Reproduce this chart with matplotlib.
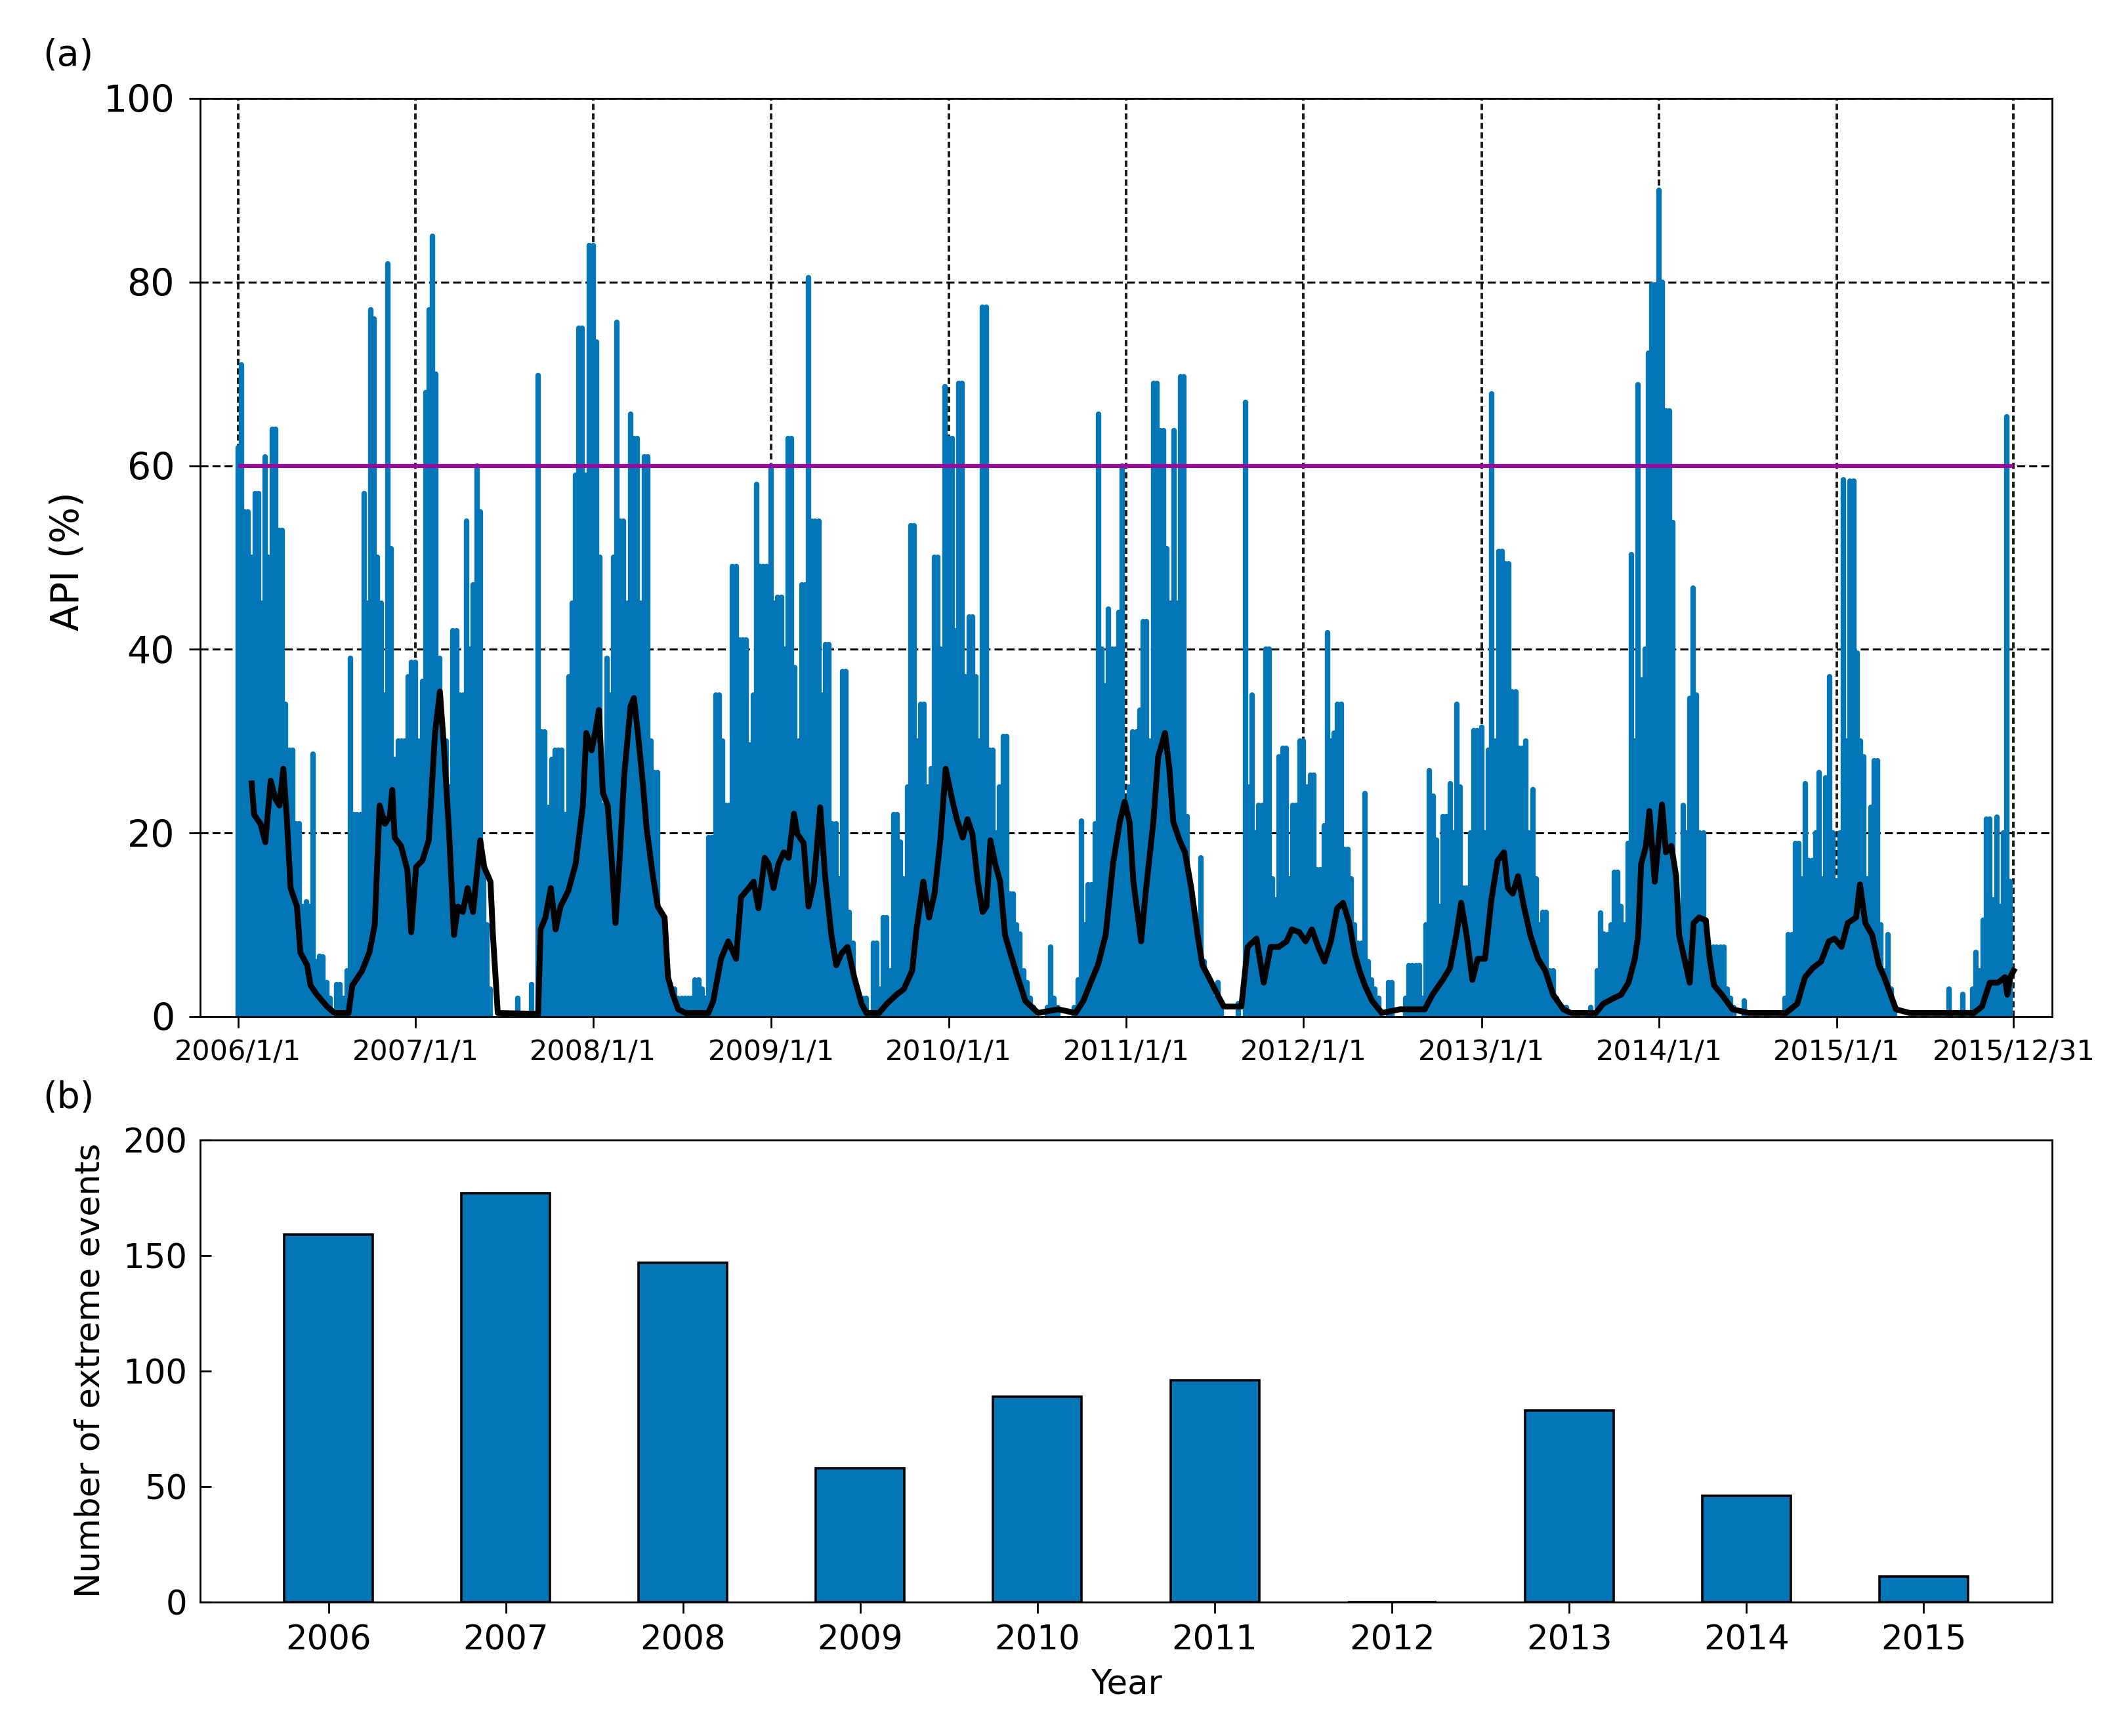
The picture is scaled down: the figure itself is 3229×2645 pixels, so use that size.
import numpy as np
import matplotlib
matplotlib.use('Agg')
import matplotlib.pyplot as plt
import matplotlib.dates as mdates
from datetime import date, timedelta

# weekly API peaks, one list per year, first value = 1 Jan
api_2006 = [62, 71, 55, 55, 50, 57, 57, 45, 61, 50, 64, 64, 53, 53, 34, 29, 29, 21, 21, 12,
            12.5, 12, 28.6, 6, 6.6, 6.5, 3.7, 2, 0, 3.5, 3.5, 2, 5, 39, 22, 22, 22, 57, 45, 77,
            76, 50, 45, 35, 82, 51, 28, 30, 30, 30, 37, 38.6]
api_2007 = [38.6, 30, 36.5, 68, 77, 85, 70, 39, 30, 30, 25, 42, 42, 35, 35, 54, 40, 47, 60, 55,
            17, 10, 3, 0, 0, 0, 0, 0, 0, 0, 2, 0, 0, 0, 3.5, 0, 69.8, 31, 31, 22.8,
            28, 29, 29, 29, 22, 37, 45, 59, 75, 75, 59, 84]
api_2008 = [84, 73.5, 50, 23, 39, 35, 50, 75.6, 54, 54, 45, 65.6, 63, 63, 45, 61, 61, 30, 26.6, 26.6,
            11.4, 8, 3, 3, 3, 2, 2, 2, 2, 2, 4, 4, 3, 2, 19.5, 19.5, 35, 35, 30, 23,
            23, 49, 49, 41, 41, 41, 29.6, 35, 58, 49, 49, 49]
api_2009 = [60, 45, 45.7, 45.7, 40, 63, 63, 38, 30, 47, 47, 80.5, 54, 54, 54, 35, 40.5, 40.5, 21, 21,
            15, 37.6, 37.6, 11.4, 8, 3, 2, 2, 2, 0, 8, 8, 3, 10.8, 10.8, 5, 22, 22, 19, 15,
            25, 53.5, 53.5, 30, 34, 34, 25, 27, 50, 50, 40, 68.6]
api_2010 = [63, 63, 42, 69, 69, 37, 43.5, 43.5, 37, 30, 77.3, 77.3, 29, 29, 20, 25, 30.5, 30.5, 13.4, 13.4,
            10, 9, 5, 3.7, 2, 1, 0, 0, 0, 1, 7.6, 2, 1, 0, 0, 0, 0, 1, 4, 21.3,
            10, 14.4, 14.4, 21, 65.6, 40, 36, 44.4, 40, 40, 44, 60]
api_2011 = [23, 25, 31, 31, 33.4, 43, 43, 30, 69, 69, 63.8, 63.8, 51, 45, 63.8, 45, 69.7, 69.7, 21.8, 14,
            10, 8, 17.3, 6, 4, 3, 2, 3.7, 1, 0, 0, 0, 0, 1.4, 0, 66.9, 25, 35, 20, 23,
            23, 40, 40, 15, 12.7, 28.3, 29.2, 29.2, 15, 23, 23, 30]
api_2012 = [30, 25, 26.3, 26.3, 16, 16, 20.8, 41.8, 30, 30.9, 34, 34, 18.2, 18.2, 15, 10, 8, 8, 24.3, 6,
            4, 3, 2, 0, 0, 3.7, 3.7, 0, 0, 0, 2, 5.6, 5.6, 5.6, 5.6, 2, 10, 26.8, 24, 19.2,
            12, 21.8, 21.8, 25.4, 20, 34, 25, 14, 14, 20, 31.2, 31.2]
api_2013 = [31.5, 20, 29, 67.8, 30, 50.7, 50.7, 49.3, 49.3, 35.4, 35.4, 29.2, 29.2, 30, 20, 24.7, 15, 10, 11.4, 11.4,
            5, 5, 2, 1, 1, 1, 0, 0, 0, 0, 0, 0, 1, 0, 5, 11.3, 9, 8.9, 10, 15.7,
            15.7, 12, 10, 18.9, 50.3, 30, 68.8, 36.7, 40, 72.3, 79.7, 79.7]
api_2014 = [90, 80, 66, 66, 53.8, 15, 8.9, 23, 20, 34.7, 46.7, 35, 20, 20, 7.6, 5, 7.6, 7.6, 7.6, 7.6,
            3, 2, 1, 0, 0, 1.7, 0, 0, 0, 0, 0, 0, 0, 0, 0, 0, 0, 2, 8.9, 8.9,
            18.9, 18.9, 15, 25.4, 17, 17, 20, 26.6, 15, 26, 37, 20]
api_2015 = [14.7, 20, 58.5, 30, 58.3, 58.3, 39.6, 30, 28.3, 15, 22.8, 27.9, 27.9, 10, 5, 8.9, 3, 1, 0, 0,
            0, 0, 0, 0, 0, 0, 0, 0, 0, 0, 0, 0, 0, 3, 0, 0, 0, 2.4, 0, 0,
            3, 7, 5, 10.5, 21.5, 21.5, 12.7, 21.7, 12, 20, 65.3, 14.7]

api_years = {2006: api_2006, 2007: api_2007, 2008: api_2008, 2009: api_2009, 2010: api_2010,
             2011: api_2011, 2012: api_2012, 2013: api_2013, 2014: api_2014, 2015: api_2015}

# smoothed API (black curve): vertices as (weeks since 2006-01-01, value)
smooth_week = [4.0, 4.8, 6.6, 8.1, 9.6, 11.1, 12.2, 13.3, 14.4, 15.5, 17.3, 18.4, 20.3, 21.4, 23.2, 26.2,
               28.4, 32.5, 33.6, 36.5, 38.7, 40.2, 41.7, 43.2, 44.6, 45.4, 46.1, 47.9, 49.8, 50.9, 52.4,
               54.2, 56.1, 57.9, 59.4, 60.5, 62, 63.5, 64.6, 66, 67.5, 69, 71.2, 72.3, 74.2, 74.9, 76.4,
               88.2, 88.9, 90.4, 91.9, 93.3, 94.8, 97, 99.2,
               101.3, 102.4, 103.9, 105, 106.1, 107.2, 108.7, 109.8, 110.9, 112, 113.5, 115.3, 116.4, 117.5,
               119, 120.1, 121.9, 123.4, 125.3, 126.4, 127.8, 129.3, 131.5, 138.2, 139.7, 141.9, 144.1,
               146.3, 147.8, 150, 151.5, 152.9, 154.8, 155.9, 157.4, 158.8, 160.3, 161.8, 163.3, 164.4,
               166.2, 167.7, 169.2, 171, 172.5, 174.3, 175.8, 177.3, 179.1, 181, 183.2, 184.7, 188.4,
               190.6, 193.5, 195.7, 198, 199.4, 201.3, 203.1, 204.6, 206.4, 207.9, 209.8, 211.2, 212.9,
               214.3,
               215.8, 217.3, 218.8, 219.9, 221, 222.5, 223.9, 225.4, 226.9, 229.1, 231.3, 235, 240.9,
               246.1, 248.3, 250.5, 252.7, 254.9, 257.1, 259, 260.5, 261.9, 263, 265.3, 266.7, 268.9,
               270.4, 272.3, 273.7, 274.8, 276.7, 278.2, 280, 281.9, 283.3, 285.2, 287.4, 289.6, 294.8,
               296.6, 299.2, 301.4, 303.3, 305.8,
               308.1, 309.6, 311.8, 313.6, 315.5, 317.3, 319.2, 321, 322.9, 324.7, 326.5, 328, 329.5,
               331, 333.2, 336.1, 341.3, 348.7, 350.9, 353.9, 356.1, 357.9, 359.4, 360.9, 362.7, 364.2,
               366.4, 368.2, 370.1, 371.9, 373, 374.5, 376, 377.8, 379.7, 381.9, 384.1, 386.3, 389.3,
               391.5, 398.9, 401.1, 404.1, 406.3, 408.5, 410.3, 411.4, 412.2, 413.6, 414.7, 416.2,
               417.3, 418.4, 419.5, 421, 422.5,
               423.3, 424.9, 426.5, 427.7, 429.2, 431.2, 432.4, 433.6, 435.9, 439.1, 443.8, 454.8, 458,
               460.3, 462.7, 465.1, 467.4, 469, 471, 472.9, 475.3, 476.5, 478.1, 480, 482, 483.6, 485.5,
               487.1, 491, 509.9, 512.3, 514.7, 517, 519, 519.8, 520.6, 521.6]
smooth_api = [25.4, 22, 21, 19, 25.7, 23.7, 23, 27, 21.8, 14, 12, 7, 5.6, 3.4, 2.4, 1.1,
              0.4, 0.4, 3.4, 5, 7, 10, 23, 21, 21.8, 24.7, 19.5, 18.6, 16, 9.2, 16.3,
              17, 19.2, 30.9, 35.4, 29.6, 19.9, 8.9, 12, 11.4, 14, 11.4, 19.2, 16.3, 14.7, 8.9, 0.4,
              0.3, 9.5, 10.8, 14, 9.5, 12, 13.7, 16.6,
              23, 30.9, 29, 31.2, 33.4, 24.4, 23, 17.3, 10.2, 16.6, 26.3, 33.8, 34.7, 30.9,
              25, 20.5, 15.3, 12, 10.8, 4.3, 2.4, 0.8, 0.4, 0.4, 1.7, 6.3, 8.2,
              6.3, 13, 14, 14.7, 11.8, 17.3, 16.6, 14, 16.6, 17.9, 17.3, 22.1, 19.9,
              18.9, 12, 14.7, 22.8, 15.3, 8.9, 5.6, 6.9, 7.6, 4.3, 1.4, 0.4, 0.4,
              1.4, 2.4, 3, 5, 9.5, 14.7, 10.8, 13.4, 19.2, 27, 23.7, 21.5, 19.5,
              21.5,
              19.9, 14.7, 11.4, 12, 19.2, 16.6, 14.7, 8.9, 6.9, 4.3, 1.7, 0.4, 0.8,
              0.4, 1.7, 3.7, 5.6, 8.9, 16.6, 21.2, 23.4, 21.2, 14.7, 8.2, 13.4, 21.2,
              28.3, 30.9, 27, 21.2, 19.2, 17.9, 14, 8.9, 5.6, 4.3, 2.7, 1.1, 1.1,
              7.6, 8.5, 3.7, 7.6, 7.6,
              8.2, 9.5, 9.2, 8.2, 9.5, 7.6, 6, 8.2, 11.8, 12.4, 10.2, 6.9, 5,
              3.4, 1.7, 0.4, 0.8, 0.8, 2.4, 4, 5.3, 8.9, 12.4, 8.9, 4, 6.3,
              6.3, 12.7, 17, 17.9, 14, 13.4, 15.3, 12, 8.9, 6.3, 5, 2.4, 0.8,
              0.4, 0.4, 1.4, 2, 2.4, 3.7, 6.3, 8.9, 16.6, 18.6, 22.4, 14.7,
              19.2, 23.1, 17.9, 18.6, 15.3,
              8.9, 6.3, 3.7, 10.2, 10.8, 10.5, 6.3, 3.4, 2.4, 0.8, 0.4, 0.4, 1.4,
              4.3, 5.3, 6, 8.2, 8.5, 7.6, 10.2, 10.8, 14.4, 10.2, 8.9, 5.6, 4.3, 2.4,
              0.8, 0.4, 0.4, 1.1, 3.7, 3.7, 4.3, 2.4, 4.3, 5]

threshold = 60

# panel (b)
years = ['2006', '2007', '2008', '2009', '2010', '2011', '2012', '2013', '2014', '2015']
n_events = [159, 177, 147, 58, 89, 96, 0, 83, 46, 11]

tick_dates = [date(y, 1, 1) for y in range(2006, 2016)] + [date(2015, 12, 31)]
tick_labels = ['%d/1/1' % y for y in range(2006, 2016)] + ['2015/12/31']

BLUE = '#0276b6'
start = date(2006, 1, 1)
end = date(2015, 12, 31)

fig = plt.figure(figsize=(16.15, 13.225), dpi=200)
ax = fig.add_axes([0.09443, 0.41437, 0.87368, 0.52892])
ax2 = fig.add_axes([0.09443, 0.07713, 0.87368, 0.26616])

# (a) API time series
for yr, vals in api_years.items():
    v = np.array(vals, dtype=float)
    x = np.array([mdates.date2num(date(yr, 1, 1) + timedelta(days=7 * k)) for k in range(len(v))])
    m = v > 0
    ax.vlines(x[m], 0, v[m], color=BLUE, lw=3.0, capstyle='round', zorder=2)

sx = [mdates.date2num(start + timedelta(days=7 * w)) for w in smooth_week]
ax.plot(sx, smooth_api, color='k', lw=3.2, zorder=4)
ax.hlines(threshold, mdates.date2num(start), mdates.date2num(end), color='#9a0a9a', lw=2.2, zorder=3)

ax.set_xlim(mdates.date2num(start) - 78, mdates.date2num(end) + 79)
ax.set_ylim(0, 100)
ax.set_yticks(range(0, 101, 20))
ax.set_xticks([mdates.date2num(d) for d in tick_dates])
ax.set_xticklabels(tick_labels)
ax.tick_params(axis='x', labelsize=15.5, length=6, width=1, pad=6)
ax.tick_params(axis='y', labelsize=20.5, length=6, width=1, pad=8)
ax.yaxis.grid(True, linestyle=(0, (4, 2)), color='k', lw=1.1)
ax.xaxis.grid(True, linestyle=(0, (2.4, 1.3)), color='#1a1a1a', lw=1.4)
for s in ax.spines.values():
    s.set_linewidth(1.0)

# (b) yearly count of extreme events
ax2.bar(range(len(years)), n_events, width=0.5, color=BLUE, edgecolor='k', lw=1.3)
ax2.set_xlim(-0.725, 9.725)
ax2.set_ylim(0, 200)
ax2.set_yticks(range(0, 201, 50))
ax2.set_xticks(range(len(years)))
ax2.set_xticklabels(years)
ax2.tick_params(axis='x', labelsize=18.5, length=6, width=1, pad=6)
ax2.tick_params(axis='y', labelsize=18.5, length=6, width=1, pad=7, direction='in')
for s in ax2.spines.values():
    s.set_linewidth(1.0)

fig.text(0.0319, 0.6767, 'API (%)', rotation=90, ha='center', va='center', fontsize=21)
fig.text(0.0427, 0.2106, 'Number of extreme events', rotation=90, ha='center', va='center', fontsize=18.5)
fig.text(0.5313, 0.0295, 'Year', ha='center', va='center', fontsize=18.5)
fig.text(0.0201, 0.9679, '(a)', ha='left', va='center', fontsize=20)
fig.text(0.0201, 0.3675, '(b)', ha='left', va='center', fontsize=20)

fig.savefig('out.png', dpi=200)
